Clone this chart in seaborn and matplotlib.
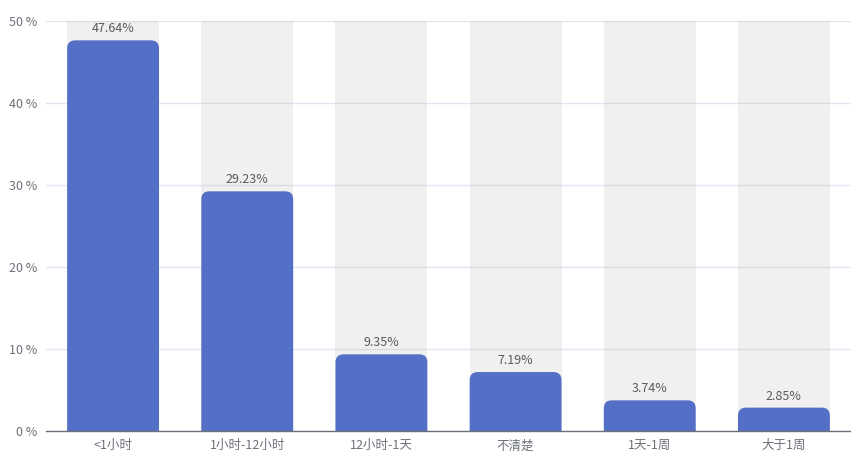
import numpy as np
import pandas as pd
import seaborn as sns
import matplotlib
matplotlib.use("Agg")
import matplotlib.pyplot as plt
from matplotlib.patches import FancyBboxPatch

categories = ["<1小时", "1小时-12小时", "12小时-1天", "不清楚", "1天-1周", "大于1周"]
values = [47.64, 29.23, 9.35, 7.19, 3.74, 2.85]
y_ticks = [0, 10, 20, 30, 40, 50]
y_tick_labels = ["0 %", "10 %", "20 %", "30 %", "40 %", "50 %"]

BAR = "#5470c6"
BG = (180 / 255, 180 / 255, 180 / 255, 0.2)
GRID = "#e0e6f1"
AXIS = "#6e7079"
TEXT = "#6e7079"

sns.set_theme(style="white")
plt.rcParams["font.family"] = ["Noto Sans CJK SC", "DejaVu Sans"]

W, H, DPI = 851, 459, 100
fig = plt.figure(figsize=(W / DPI, H / DPI), dpi=DPI)
left, right, bottom, top = 46, 851, 431, 21
ax = fig.add_axes([left / W, (H - bottom) / H, (right - left) / W, (bottom - top) / H])

df = pd.DataFrame({"cat": categories, "val": values})
bar_width = 0.685
ymax = y_ticks[-1]

# translucent background column behind each bar, over the grid
ax.bar(np.arange(len(categories)), [ymax] * len(categories), width=bar_width,
       color=BG, zorder=1, linewidth=0)

sns.barplot(data=df, x="cat", y="val", color=BAR, width=bar_width, ax=ax,
            saturation=1, zorder=3)

ax.set_xlim(-0.5, len(categories) - 0.5)
ax.set_ylim(0, ymax)

# replace bars with rounded-top versions
px_per_x = (right - left) / len(categories)
px_per_y = (bottom - top) / ymax
radius_px = 8
aspect = px_per_x / px_per_y
for p in list(ax.patches):
    if p.get_facecolor()[:3] != matplotlib.colors.to_rgb(BAR):
        continue
    x0, w, h = p.get_x(), p.get_width(), p.get_height()
    p.set_visible(False)
    rb = FancyBboxPatch((x0, -3), w, h + 3,
                        boxstyle=f"round,pad=0,rounding_size={radius_px / px_per_x}",
                        mutation_aspect=aspect, facecolor=BAR, edgecolor="none",
                        zorder=3)
    ax.add_patch(rb)
    ax.text(x0 + w / 2, h + 5 / px_per_y, f"{h:.2f}%", ha="center", va="bottom",
            fontsize=9, color="#5a5a5a", zorder=4)

ax.set_yticks(y_ticks)
ax.set_yticklabels(y_tick_labels)
ax.yaxis.grid(True, color=GRID, linewidth=1, zorder=0)
ax.set_axisbelow(True)
ax.tick_params(axis="y", length=0, pad=6, labelsize=9, labelcolor=TEXT)

ax.set_xticks(np.arange(len(categories)))
ax.set_xticklabels(categories)
ax.tick_params(axis="x", length=0, pad=6, labelsize=9, labelcolor=TEXT)
ax.set_xticks(np.arange(len(categories) + 1) - 0.5, minor=True)
ax.tick_params(axis="x", which="minor", length=5, color=AXIS, width=1, direction="out")
ax.set_xlabel("")
ax.set_ylabel("")

for s in ["top", "right", "left"]:
    ax.spines[s].set_visible(False)
ax.spines["bottom"].set_color(AXIS)
ax.spines["bottom"].set_linewidth(1)
ax.spines["bottom"].set_zorder(5)

fig.savefig("out.png", dpi=DPI)
